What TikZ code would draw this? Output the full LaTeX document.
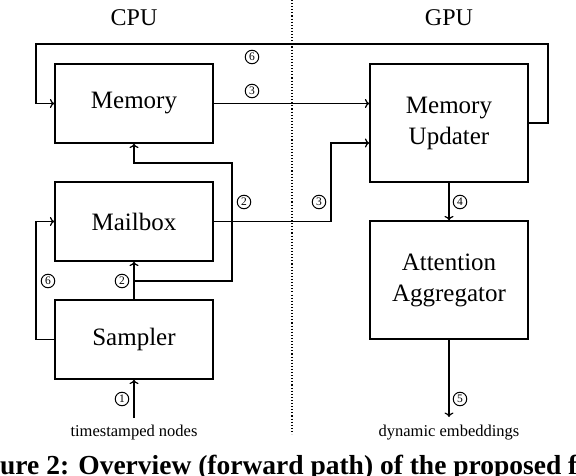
\documentclass[tikz,border=0pt]{standalone}
\usepackage{fontspec}
\setmainfont{Liberation Serif}
\usetikzlibrary{arrows.meta}
\begin{document}
\begin{tikzpicture}[x=1pt,y=-1pt,
  box/.style={draw,line width=1.2pt,minimum width=158pt,inner sep=0pt,align=center,font=\fontsize{25}{31}\selectfont},
  conn/.style={line width=1.2pt,-{To[length=4.5pt,width=9pt]}},
  num/.style={draw,circle,line width=1pt,inner sep=0.5pt,minimum size=13.5pt,font=\fontsize{11.5}{11.5}\selectfont},
  side/.style={font=\fontsize{24}{26}\selectfont},
  small/.style={font=\fontsize{16.5}{18}\selectfont}]
\useasboundingbox (0,0) rectangle (576,476);
% headers
\node[side] (cpu) at (134,18) {CPU};
\node[side] (gpu) at (449,18) {GPU};
\draw[dotted,line width=1.1pt] (292,0) -- (292,434);
% boxes
\node[box,minimum height=79pt] (mem) at (134,103.5) {Memory};
\node[box,minimum height=79pt] (mail) at (134,221.5) {Mailbox};
\node[box,minimum height=79pt] (samp) at (134,339.5) {Sampler};
\node[box,minimum height=118pt] (upd) at (449,123) {Memory\\Updater};
\node[box,minimum height=118pt] (att) at (449,280) {Attention\\Aggregator};
% helper coordinates
\coordinate (tr) at (548,44);
\coordinate (tl) at (36,44);
\coordinate (j3) at (331,143);
\coordinate (sl) at (36,339.5);
\coordinate (b1) at (134,281);
\coordinate (b2) at (232,163);
\coordinate (in1) at (134,418);
\coordinate (out1) at (449,417);
% text labels
\node[small] (ts) at (134,433) {timestamped nodes};
\node[small] (emb) at (449,433) {dynamic embeddings};
% connectors
\draw[conn] (upd.east) -| (tr) -- (tl) |- (mem.west);
\draw[conn] (mem.east) -- (mem.east -| upd.west);
\draw[conn] (mail.east) -| (j3) -- (j3 -| upd.west);
\draw[conn] (upd.south) -- (att.north);
\draw[conn] (att.south) -- (out1);
\draw[conn] (samp.west) -- (sl) |- (mail.west);
\draw[conn] (samp.north) -- (mail.south);
\draw[conn] (b1) -| (b2) -| (mem.south);
\draw[conn] (in1) -- (samp.south);
% step numbers
\node[num] (n6a) at (252,57) {6};
\node[num] (n3a) at (252,91) {3};
\node[num] (n2a) at (244,202) {2};
\node[num] (n3b) at (319,202) {3};
\node[num] (n4) at (460,202) {4};
\node[num] (n6b) at (48,281) {6};
\node[num] (n2b) at (122,281) {2};
\node[num] (n1) at (122,399) {1};
\node[num] (n5) at (460,399) {5};
% caption (cut by the page edges, as in the reference)
\node[anchor=base west,inner sep=0pt,font=\bfseries\fontsize{27.5}{29}\selectfont] (cap) at (0,474) {\llap{Fig}ure 2: Overview (forward path) of the proposed framework};
\end{tikzpicture}
\end{document}
